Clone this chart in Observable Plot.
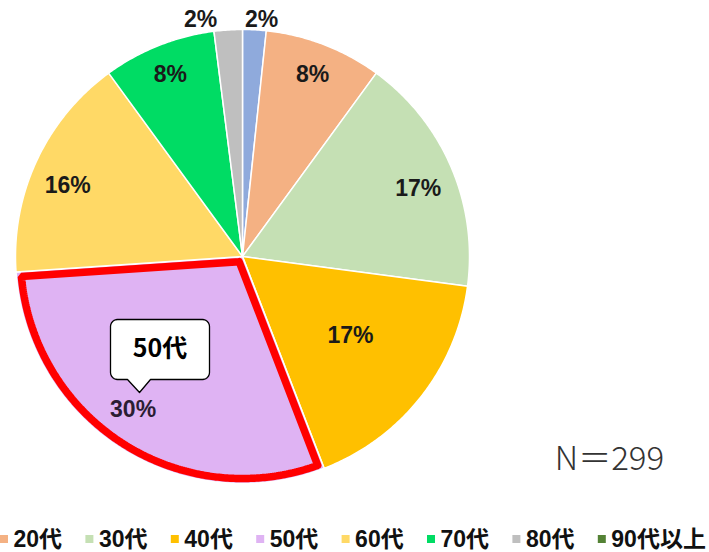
<!DOCTYPE html>
<html><head><meta charset="utf-8">
<script src="https://cdn.jsdelivr.net/npm/d3@7"></script>
<script src="https://cdn.jsdelivr.net/npm/@observablehq/plot@0.6"></script>
<style>body{margin:0;background:#fff;overflow:hidden}</style>
</head><body><div id="chart"></div>
<script>
// ---- data ----
const categories = ["10代","20代","30代","40代","50代","60代","70代","80代","90代以上"];
const counts = [5, 25, 51, 51, 89, 48, 24, 6, 0];
const percentLabels = ["2%","8%","17%","17%","30%","16%","8%","2%",""];
const colors = ["#8FAADC","#F4B183","#C5E0B4","#FFC000","#DFB3F3","#FFD966","#00DC64","#BFBFBF","#548235"];
const highlightCategory = "50代";
const calloutText = "50代";
const totalLabel = "N＝299";

// ---- layout ----
const W = 709, H = 552;
const cx = 242, cy = 256, R = 227;
// per-slice label placement: [radius factor, angle offset in degrees]
const labelPlacement = [[1.045, 1.6],[0.86, 0],[0.83, 2],[0.59, -2],[0.83, 3],[0.83, -3],[0.86, 0],[1.06, -6.4],[0, 0]];
const callout = {x1: 110, x2: 209, y1: 319, y2: 379, r: 7, tailL: 127, tailR: 150, tipX: 139, tipY: 392};
const legendStart = -85.4, legendStep = 85.4, legendY = 539;

const data = categories.map((c, i) => ({category: c, count: counts[i], label: percentLabels[i], place: labelPlacement[i]}));
const arcs = d3.pie().sort(null).value(d => d.count)(data);

const pt = (a, r) => ({x: cx + r * Math.sin(a), y: cy - r * Math.cos(a)});

// slice polygons
const slicePts = [];
for (const p of arcs) {
  if (p.endAngle - p.startAngle <= 0) continue;
  const cat = p.data.category;
  slicePts.push({cat, x: cx, y: cy});
  const n = Math.max(2, Math.ceil((p.endAngle - p.startAngle) / (Math.PI / 360)));
  for (let i = 0; i <= n; i++) {
    const a = p.startAngle + (p.endAngle - p.startAngle) * i / n;
    slicePts.push({cat, ...pt(a, R)});
  }
  slicePts.push({cat, x: cx, y: cy});
}

// highlight outline (inset)
const hl = arcs.find(p => p.data.category === highlightCategory);
const inset = 5;
const hlPts = [];
{
  const a0 = hl.startAngle + inset / R, a1 = hl.endAngle - inset / R;
  const mid = (hl.startAngle + hl.endAngle) / 2, half = (hl.endAngle - hl.startAngle) / 2;
  const c0 = pt(mid, inset / Math.sin(half));
  hlPts.push(c0);
  const n = 200;
  for (let i = 0; i <= n; i++) hlPts.push(pt(a0 + (a1 - a0) * i / n, R - inset));
  hlPts.push(c0);
  hlPts.push(pt(a0, R - inset));
}

// labels
const labelPts = arcs.filter(p => p.data.label).map(p => {
  const [rf, off] = p.data.place;
  const a = (p.startAngle + p.endAngle) / 2 + off * Math.PI / 180;
  return {label: p.data.label, cat: p.data.category, ...pt(a, R * rf)};
});

// callout shape
function calloutPts(c) {
  const pts = [], r = c.r;
  const arc = (xc, yc, a0, a1) => { for (let i = 0; i <= 6; i++) { const a = a0 + (a1 - a0) * i / 6; pts.push({x: xc + r * Math.cos(a), y: yc + r * Math.sin(a)}); } };
  arc(c.x1 + r, c.y1 + r, Math.PI, 1.5 * Math.PI);
  arc(c.x2 - r, c.y1 + r, 1.5 * Math.PI, 2 * Math.PI);
  arc(c.x2 - r, c.y2 - r, 0, 0.5 * Math.PI);
  pts.push({x: c.tailR, y: c.y2}, {x: c.tipX, y: c.tipY}, {x: c.tailL, y: c.y2});
  arc(c.x1 + r, c.y2 - r, 0.5 * Math.PI, Math.PI);
  pts.push(pts[0]);
  return pts;
}
const cPts = calloutPts(callout);

// legend (row continues past the left edge; entries fully outside the page are not drawn)
const legend = categories.map((c, i) => {
  const x = legendStart + i * legendStep;
  return {cat: c, x1: x, x2: x + 8, y1: legendY - 4, y2: legendY + 4, tx: x + 13};
}).filter(d => d.x2 > 0);

const fontLatin = "'Liberation Sans', Arial, 'Noto Sans CJK JP', sans-serif";

const chart = Plot.plot({
  width: W, height: H,
  margin: 0,
  x: {domain: [0, W], range: [0, W], axis: null},
  y: {domain: [0, H], range: [0, H], axis: null},
  color: {domain: categories, range: colors},
  style: {background: "#fff"},
  marks: [
    Plot.line(slicePts, {x: "x", y: "y", z: "cat", fill: "cat", stroke: "#fff", strokeWidth: 1.5, strokeLinejoin: "round", curve: "linear"}),
    Plot.line(hlPts, {x: "x", y: "y", stroke: "#FF0000", strokeWidth: 7.5, strokeLinejoin: "miter", fill: "none"}),
    Plot.text(labelPts, {x: "x", y: "y", text: "label", fontSize: 23, fontWeight: "bold", fontFamily: fontLatin, fill: d => d.cat === highlightCategory ? "#2b1d33" : "#1a1a1a"}),
    Plot.line(cPts, {x: "x", y: "y", fill: "#fff", stroke: "#000", strokeWidth: 1.3, strokeLinejoin: "round"}),
    Plot.text([calloutText], {x: (callout.x1 + callout.x2) / 2, y: (callout.y1 + callout.y2) / 2 - 1, text: d => d, fontSize: 25, fontWeight: "bold", fontFamily: "'Noto Sans CJK JP', sans-serif", fill: "#000"}),
    Plot.text([totalLabel], {x: 609, y: 459, text: d => d, fontSize: 33, fontWeight: 300, fontFamily: "'Noto Sans CJK JP', sans-serif", fill: "#333"}),
    Plot.rect(legend, {x1: "x1", x2: "x2", y1: "y1", y2: "y2", fill: "cat"}),
    Plot.text(legend, {x: "tx", y: legendY, text: "cat", textAnchor: "start", fontSize: 23, fontWeight: "bold", fontFamily: fontLatin, fill: "#111"})
  ]
});
document.getElementById("chart").appendChild(chart);
</script>
</body></html>
